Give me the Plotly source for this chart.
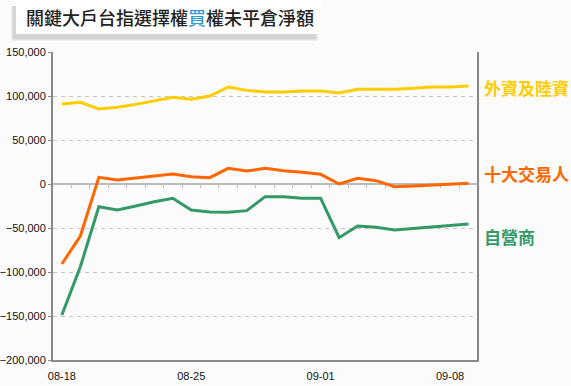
import plotly.graph_objects as go
import pandas as pd

dates = pd.date_range("2020-08-18", "2020-09-09", freq="D").strftime("%Y-%m-%d").tolist()

foreign = [90900, 92800, 85200, 87100, 90500, 94700, 98500, 96200, 100000, 110200,
           106400, 104500, 104500, 105700, 105700, 103400, 107600, 107600, 107600,
           108700, 110200, 110200, 111400]
top10 = [-90900, -59100, 7600, 4500, 6800, 9500, 11400, 8300, 7200, 17800,
         14800, 17800, 15100, 13300, 11000, 0, 6400, 3800, -3000, -2300,
         -1100, 0, 800]
dealer = [-148900, -94000, -25800, -29500, -25000, -20100, -16300, -29500, -31800, -32200,
          -30300, -14400, -14400, -16300, -16300, -61000, -47700, -49200, -52300, -50800,
          -49200, -47400, -45500]

series_names = ["外資及陸資", "十大交易人", "自營商"]
series_colors = ["#FFCC00", "#FF6600", "#339966"]
label_y = [0.886, 0.607, 0.4]

tick_dates = ["2020-08-18", "2020-08-25", "2020-09-01", "2020-09-08"]
tick_text = ["08-18", "08-25", "09-01", "09-08"]
half_days = (pd.date_range("2020-08-18 12:00", "2020-09-08 12:00", freq="D")
             .strftime("%Y-%m-%d %H:%M").tolist())

y_min, y_max = -200000, 150000

fig = go.Figure()
# invisible trace for the axis crossing at zero (drawn first, below lines)
fig.add_trace(go.Scatter(x=dates, y=[None] * len(dates), xaxis="x2", yaxis="y",
                         mode="lines", showlegend=False, hoverinfo="skip"))
for name, vals, col in zip(series_names, [foreign, top10, dealer], series_colors):
    fig.add_trace(go.Scatter(x=dates, y=vals, mode="lines", name=name,
                             line=dict(color=col, width=3), showlegend=False))

xr = ["2020-08-17 12:30", "2020-09-09 11:00"]
zero_pos = (0 - y_min) / (y_max - y_min)

fig.update_layout(
    width=571, height=386,
    margin=dict(l=53, r=94, t=52, b=26),
    paper_bgcolor="#FBFBFB", plot_bgcolor="#FBFBFB",
    font=dict(family="Liberation Sans, Arial, sans-serif", size=11, color="#111"),
    xaxis=dict(type="date", range=xr, tickvals=tick_dates, ticktext=tick_text,
               showgrid=False, showline=True, linecolor="#888", linewidth=2,
               ticks="outside", ticklen=5, tickcolor="rgba(0,0,0,0)",
               tickfont=dict(size=11, color="#111"), zeroline=False, automargin=False),
    xaxis2=dict(type="date", range=xr, overlaying="x", anchor="free", position=zero_pos,
                tickvals=half_days, showticklabels=False, ticks="outside", ticklen=3,
                tickcolor="#bbb", showline=True, linecolor="#bbb", linewidth=1.5,
                showgrid=False, zeroline=False, layer="below traces"),
    yaxis=dict(range=[y_min, y_max], dtick=50000, tickformat=",", showgrid=True,
               gridcolor="#C4C4C4", griddash="4px,4px", gridwidth=1,
               showline=True, linecolor="#888", linewidth=2, mirror=True,
               zeroline=False, ticks="outside", ticklen=3, tickcolor="#888",
               tickfont=dict(size=11, color="#111"), automargin=False),
)

# title box with soft shadow
for i, c in enumerate(["#EDEDED", "#E0E0E0", "#D4D4D4"]):
    fig.add_shape(type="rect", xref="paper", yref="paper",
                  x0=(11 + i - 53) / 424, x1=(318 - i - 53) / 424,
                  y0=(360 - 41 + i) / 308, y1=(360 - 6) / 308,
                  fillcolor=c, line=dict(width=0), layer="below")
fig.add_shape(type="rect", xref="paper", yref="paper",
              x0=(16 - 53) / 424, x1=(321 - 53) / 424,
              y0=(360 - 34) / 308, y1=(360 + 2) / 308,
              fillcolor="#FFFFFF", line=dict(width=0), layer="below")
fig.add_annotation(xref="paper", yref="paper", x=(24 - 53) / 424, y=(360 - 17) / 308,
                   text="關鍵大戶台指選擇權<span style='color:#3399DD'>買</span>權未平倉淨額",
                   showarrow=False, xanchor="left", yanchor="middle",
                   font=dict(family="Noto Sans CJK TC", size=18, color="#222222",
                             weight=500))

for name, col, ly in zip(series_names, series_colors, label_y):
    fig.add_annotation(xref="paper", yref="paper", x=1.0 + 5 / 424, y=ly,
                       text="<b>" + name + "</b>", showarrow=False,
                       xanchor="left", yanchor="middle",
                       font=dict(family="Noto Sans CJK TC", size=17, color=col))

fig.write_html("out.html")
